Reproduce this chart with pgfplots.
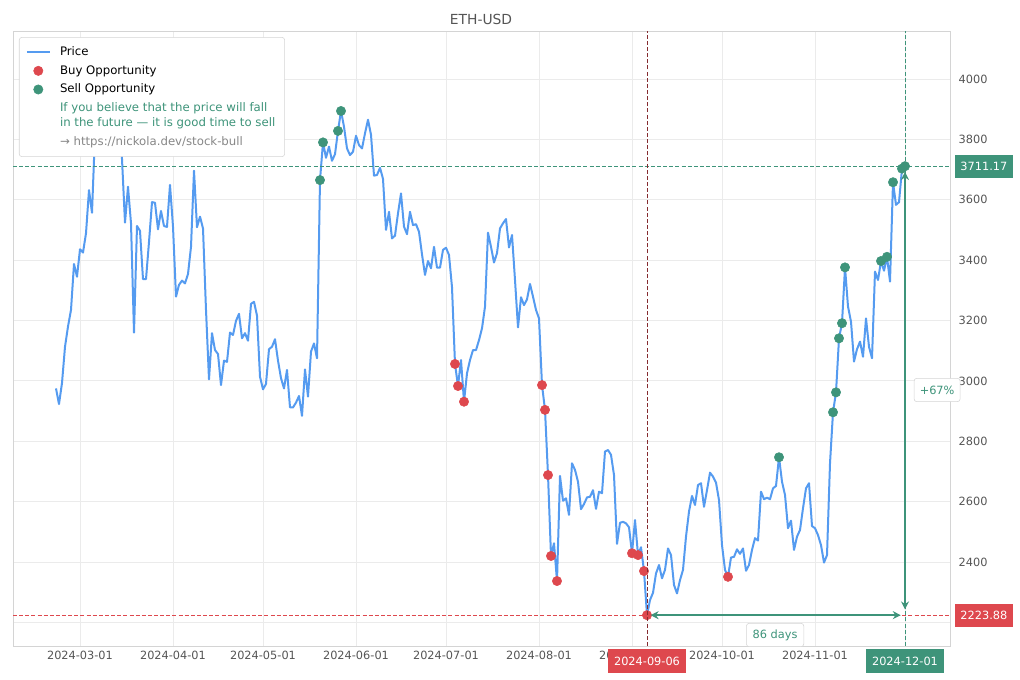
\documentclass[border=0pt]{standalone}
\usepackage{fontspec}
\setmainfont{DejaVu Sans}
\usepackage{pgfplots}
\pgfplotsset{compat=1.18}
\usepackage{pgfplotstable}
\usetikzlibrary{arrows.meta}

\definecolor{pricec}{RGB}{85,155,240}
\definecolor{buyc}{RGB}{222,72,78}
\definecolor{sellc}{RGB}{62,148,122}
\definecolor{gridc}{RGB}{235,235,235}
\definecolor{spinec}{RGB}{212,212,212}
\definecolor{tickc}{RGB}{85,85,85}
\definecolor{linkc}{RGB}{135,135,135}

% day 0 = 2024-03-01
\pgfplotstableread{
day price
-8 2975
-7 2923
-6 2993
-5 3113
-4 3180
-3 3235
-2 3387
-1 3345
0 3436
1 3425
2 3489
3 3632
4 3557
5 3820
6 3870
7 3890
8 3910
9 3880
10 4066
11 3980
12 4005
13 3880
14 3735
15 3524
16 3643
17 3522
18 3160
19 3513
20 3497
21 3337
22 3337
23 3460
24 3592
25 3590
26 3502
27 3563
28 3513
29 3510
30 3649
31 3511
32 3279
33 3318
34 3332
35 3323
36 3354
37 3444
38 3696
39 3509
40 3544
41 3505
42 3235
43 3005
44 3158
45 3102
46 3089
47 2986
48 3067
49 3063
50 3160
51 3152
52 3199
53 3222
54 3141
55 3158
56 3133
57 3255
58 3262
59 3216
60 3014
61 2972
62 2990
63 3105
64 3113
65 3138
66 3067
67 3009
68 2975
69 3036
70 2912
71 2912
72 2928
73 2950
74 2884
75 3038
76 2948
77 3097
78 3124
79 3075
80 3665
81 3790
82 3739
83 3776
84 3729
85 3751
86 3828
87 3894
88 3842
89 3770
90 3748
91 3759
92 3812
93 3781
94 3770
95 3820
96 3865
97 3815
98 3680
99 3682
100 3706
101 3669
102 3500
103 3560
104 3472
105 3481
106 3555
107 3621
108 3511
109 3486
110 3560
111 3516
112 3519
113 3494
114 3419
115 3351
116 3397
117 3373
118 3444
119 3375
120 3375
121 3434
122 3441
123 3417
124 3310
125 3056
126 2983
127 3069
128 2931
129 3025
130 3069
131 3102
132 3102
133 3135
134 3174
135 3246
136 3491
137 3444
138 3392
139 3423
140 3505
141 3522
142 3536
143 3442
144 3483
145 3334
146 3177
147 3277
148 3251
149 3270
150 3321
151 3279
152 3235
153 3207
154 2986
155 2904
156 2688
157 2420
158 2462
159 2337
160 2685
161 2603
162 2611
163 2556
164 2727
165 2705
166 2666
167 2575
168 2592
169 2614
170 2616
171 2638
172 2576
173 2633
174 2628
175 2766
176 2771
177 2755
178 2688
179 2460
180 2530
181 2533
182 2528
183 2515
184 2429
185 2539
186 2423
187 2449
188 2370
189 2223.88
190 2274
191 2298
192 2362
193 2390
194 2346
195 2374
196 2445
197 2423
198 2324
199 2296
200 2340
201 2374
202 2484
203 2567
204 2619
205 2589
206 2655
207 2661
208 2583
209 2638
210 2696
211 2683
212 2663
213 2605
214 2456
215 2374
216 2351
217 2415
218 2417
219 2442
220 2427
221 2445
222 2371
223 2390
224 2440
225 2479
226 2471
227 2633
228 2608
229 2613
230 2608
231 2644
232 2652
233 2747
234 2666
235 2622
236 2512
237 2537
238 2440
239 2484
240 2506
241 2578
242 2644
243 2661
244 2519
245 2512
246 2489
247 2456
248 2398
249 2423
250 2727
251 2896
252 2962
253 3141
254 3191
255 3376
256 3246
257 3196
258 3064
259 3105
260 3130
261 3080
262 3207
263 3113
264 3075
265 3362
266 3334
267 3397
268 3365
269 3411
270 3329
271 3658
272 3583
273 3592
274 3703
275 3711.17
}\pricedata

\pgfplotstableread{
day price
125 3056
126 2983
128 2931
154 2986
155 2904
156 2688
157 2420
159 2337
184 2429
186 2423
188 2370
189 2223.88
216 2351
}\buydata

\pgfplotstableread{
day price
80 3665
81 3790
86 3828
87 3894
233 2747
251 2896
252 2962
253 3141
254 3191
255 3376
267 3397
269 3411
271 3658
274 3703
275 3711.17
}\selldata

\begin{document}
\begin{tikzpicture}[x=1pt,y=1pt]
\path (0,0) rectangle (765,510);
\node[text=tickc, font=\fontsize{10.4}{12}\selectfont] at (360.75,495.75) {ETH-USD};
\begin{axis}[
  at={(9.75pt,25.5pt)}, anchor=south west,
  width=702.75pt, height=461.25pt, scale only axis,
  xmin=-22.333, xmax=290, ymin=2121.8, ymax=4159,
  axis line style={spinec},
  grid=major, major grid style={gridc, line width=0.6pt},
  major tick length=0pt,
  ytick={2200,2400,...,4000},
  yticklabel pos=right,
  xtick={0,31,61,92,122,153,184,214,245,275},
  xticklabels={2024-03-01,2024-04-01,2024-05-01,2024-06-01,2024-07-01,2024-08-01,2024-09-01,2024-10-01,2024-11-01,2024-12-01},
  ticklabel style={font=\fontsize{8.5}{10}\selectfont, text=tickc},
  yticklabel style={xshift=3pt},
  /pgf/number format/assume math mode=true,
  /pgf/number format/set thousands separator={},
  clip mode=individual,
  legend cell align=left,
  legend style={at={(0.0064,0.990)}, anchor=north west, draw=spinec,
    rounded corners=2pt, fill=white, font=\fontsize{8.8}{11.3}\selectfont,
    inner xsep=5pt, inner ysep=5pt, row sep=1.8pt, column sep=5pt},
]
\addplot[pricec, line width=1.5pt, line join=round] table[x=day, y=price] {\pricedata};
\addlegendentry{Price}
\addplot[only marks, mark=*, mark size=3.5pt, buyc, mark options={draw=buyc, fill=buyc}] table[x=day, y=price] {\buydata};
\addlegendentry{Buy Opportunity}
\addplot[only marks, mark=*, mark size=3.5pt, sellc, mark options={draw=sellc, fill=sellc}] table[x=day, y=price] {\selldata};
\addlegendentry{Sell Opportunity}
\addlegendimage{empty legend}
\addlegendentry[align=left, text=sellc]{If you believe that the price will fall\\in the future — it is good time to sell}
\addlegendimage{empty legend}
\addlegendentry[text=linkc]{→ https://nickola.dev/stock-bull}

\draw[sellc, line width=0.7pt, dash pattern=on 3pt off 1.6pt] (axis cs:-22.333,3711.17) -- (axis cs:290,3711.17);
\draw[buyc, line width=0.7pt, dash pattern=on 3pt off 1.6pt] (axis cs:-22.333,2223.88) -- (axis cs:290,2223.88);
\draw[buyc!60!black, line width=0.6pt, dash pattern=on 3pt off 1.6pt] (axis cs:189,2121.8) -- (axis cs:189,4159);
\draw[sellc, line width=0.6pt, dash pattern=on 3pt off 1.6pt] (axis cs:275,2121.8) -- (axis cs:275,4159);
\draw[sellc, line width=1.4pt, {Stealth[length=6pt,width=6pt]}-{Stealth[length=6pt,width=6pt]}] (axis cs:190.2,2223.88) -- (axis cs:273.6,2223.88);
\draw[sellc, line width=1.4pt, {Stealth[length=6pt,width=6pt]}-{Stealth[length=6pt,width=6pt]}] (axis cs:275,2243) -- (axis cs:275,3692);

\coordinate (hi) at (axis cs:301.3,3711.17);
\coordinate (lo) at (axis cs:301.3,2223.88);
\coordinate (d1) at (axis cs:189,2072.2);
\coordinate (d2) at (axis cs:275,2072.2);
\coordinate (days) at (axis cs:231.7,2158.2);
\coordinate (pct) at (axis cs:285.7,2969.8);
\end{axis}
\tikzset{lbl/.style={font=\fontsize{8.5}{10}\selectfont, inner sep=0pt, minimum height=17.5pt}}
\node[lbl, fill=sellc, text=white, minimum width=43.5pt] at (hi) {3711.17};
\node[lbl, fill=buyc, text=white, minimum width=43.5pt] at (lo) {2223.88};
\node[lbl, fill=buyc, text=white, minimum width=58.5pt] at (d1) {2024-09-06};
\node[lbl, fill=sellc, text=white, minimum width=58.5pt] at (d2) {2024-12-01};
\node[lbl, fill=white, draw=spinec, rounded corners=2pt, text=sellc, minimum width=43pt] at (days) {86 days};
\node[lbl, fill=white, draw=spinec, rounded corners=2pt, text=sellc, minimum width=34.5pt] at (pct) {+67\%};
\end{tikzpicture}
\end{document}
